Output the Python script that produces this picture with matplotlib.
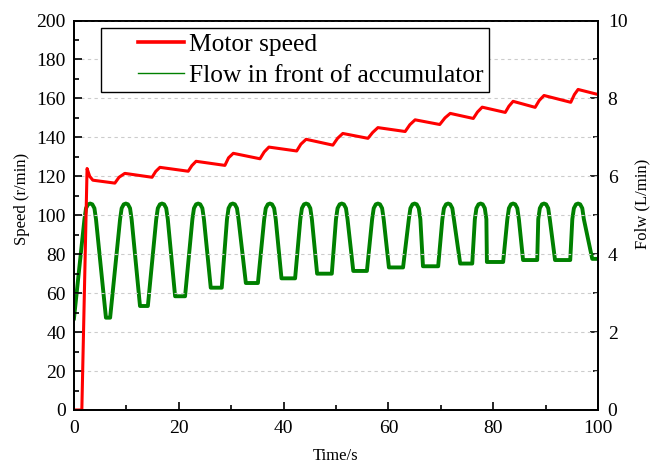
import matplotlib
matplotlib.use("Agg")
import matplotlib.pyplot as plt
from matplotlib.lines import Line2D
from matplotlib.legend_handler import HandlerLine2D
from matplotlib.ticker import MultipleLocator

plt.rcParams['font.family'] = ['Liberation Serif', 'DejaVu Serif']

# ---------------- data ----------------
# Motor speed (r/min) vertices
speed_t = [0, 1.5, 2.5, 3.0, 3.6, 7.8, 8.6, 9.7, 14.9, 15.6, 16.4, 21.8, 22.5, 23.3,
           28.8, 29.5, 30.4, 35.5, 36.3, 37.2, 42.5, 43.3, 44.3, 49.4, 50.3, 51.3,
           56.1, 57.0, 58.0, 63.2, 64.1, 65.1, 69.8, 70.8, 71.8, 76.2, 77.0, 77.9,
           82.3, 83.0, 83.8, 88.0, 88.8, 89.7, 94.8, 95.5, 96.2, 100]
speed_v = [0, 0, 124, 120, 118, 116.5, 119.5, 121.5, 119.5, 122.5, 124.6, 122.6, 125.5, 127.7,
           125.6, 129.5, 131.8, 129.0, 132.5, 135.0, 133.0, 136.5, 139.0, 136.0, 139.5, 142.0,
           139.5, 142.5, 145.0, 143.0, 146.5, 149.0, 146.6, 150.0, 152.3, 149.7, 153.0, 155.5,
           152.8, 156.0, 158.5, 155.4, 159.0, 161.5, 158.0, 162.0, 164.6, 162.0]

# Flow in front of accumulator (L/min): start, peaks and flat troughs
flow_start = (0.0, 2.35)
flow_peak_t = [3.1, 9.9, 16.8, 23.7, 30.3, 37.4, 44.3, 51.1, 58.0, 65.0, 71.4, 77.6, 83.8, 89.7, 96.2]
flow_peak_v = [5.3] * 15
flow_trough_start = [6.1, 12.6, 19.3, 26.1, 32.8, 39.6, 46.4, 53.3, 60.1, 66.6, 73.7, 78.8, 85.7, 91.8, 98.9]
flow_trough_end = [6.9, 14.1, 21.2, 28.2, 35.1, 42.2, 49.2, 55.9, 62.8, 69.5, 76.0, 81.9, 88.4, 94.7, 100.0]
flow_trough_v = [2.37, 2.67, 2.92, 3.14, 3.26, 3.38, 3.50, 3.57, 3.66, 3.69, 3.76, 3.80, 3.85, 3.85, 3.88]
# rounded peak profile (time offset, drop below peak)
peak_dt = [-1.1, -0.8, -0.4, 0.0, 0.4, 0.8, 1.1]
peak_dv = [-0.4, -0.12, -0.02, 0.0, -0.02, -0.12, -0.4]

flow_t = [flow_start[0]]
flow_v = [flow_start[1]]
for p, pv, ts, te, tv in zip(flow_peak_t, flow_peak_v, flow_trough_start, flow_trough_end, flow_trough_v):
    for dt, dv in zip(peak_dt, peak_dv):
        flow_t.append(p + dt)
        flow_v.append(pv + dv)
    flow_t += [ts, te]
    flow_v += [tv, tv]

# ---------------- figure ----------------
fig = plt.figure(figsize=(6.5, 4.66), dpi=100)
ax = fig.add_axes([0.1138, 0.1202, 0.8062, 0.8358])
ax2 = ax.twinx()

ax.set_zorder(ax2.get_zorder() + 1)
ax.patch.set_visible(False)

ax2.plot(flow_t, flow_v, color='#008000', lw=2.8, solid_joinstyle='round')
ax.plot(speed_t, speed_v, color='#ff0000', lw=2.2, solid_joinstyle='round')

ax.set_xlim(0, 100)
ax.set_ylim(0, 200)
ax2.set_ylim(0, 10)

ax.xaxis.set_major_locator(MultipleLocator(20))
ax.xaxis.set_minor_locator(MultipleLocator(10))
ax.yaxis.set_major_locator(MultipleLocator(20))
ax.yaxis.set_minor_locator(MultipleLocator(10))
ax2.yaxis.set_major_locator(MultipleLocator(2))
ax2.yaxis.set_minor_locator(MultipleLocator(1))

ax.yaxis.grid(True, which='major', color='#cccccc', linestyle=(0, (3, 3)), lw=0.8)
ax.set_axisbelow(True)

for a in (ax, ax2):
    for s in a.spines.values():
        s.set_linewidth(1.3)
        s.set_color('black')

ax.tick_params(axis='both', which='major', direction='in', length=6, width=1.2,
               labelsize=14, pad=6, top=False, right=False)
ax.tick_params(axis='both', which='minor', direction='in', length=3.5, width=1.2,
               top=False, right=False)
ax.tick_params(axis='x', which='major', pad=7)
ax2.tick_params(axis='y', which='major', direction='in', length=6, width=1.2,
                labelsize=14, pad=7)
ax2.tick_params(axis='y', which='minor', direction='in', length=3.5, width=1.2)

ax.set_xlabel('Time/s', fontsize=12, labelpad=8)
ax.set_ylabel('Speed (r/min)', fontsize=12)
ax2.set_ylabel('Folw (L/min)', fontsize=12)
ax.yaxis.set_label_coords(-0.083, 0.543)
ax2.yaxis.set_label_coords(1.07, 0.53)

h_speed = Line2D([], [], color='#ff0000', lw=2.6)
h_flow = Line2D([], [], color='#008000', lw=1.0)
leg = ax.legend([h_speed, h_flow], ['Motor speed', 'Flow in front of accumulator'],
                loc='upper left', bbox_to_anchor=(0.051, 0.982), borderaxespad=0,
                fontsize=18.4, frameon=True, fancybox=False, framealpha=1,
                edgecolor='black', borderpad=0.22, labelspacing=0.3,
                handlelength=3.05, handletextpad=0.2,
                handler_map={Line2D: HandlerLine2D(xpad=1.25)})
leg.get_frame().set_linewidth(1.0)

fig.savefig('out.png', dpi=100)
